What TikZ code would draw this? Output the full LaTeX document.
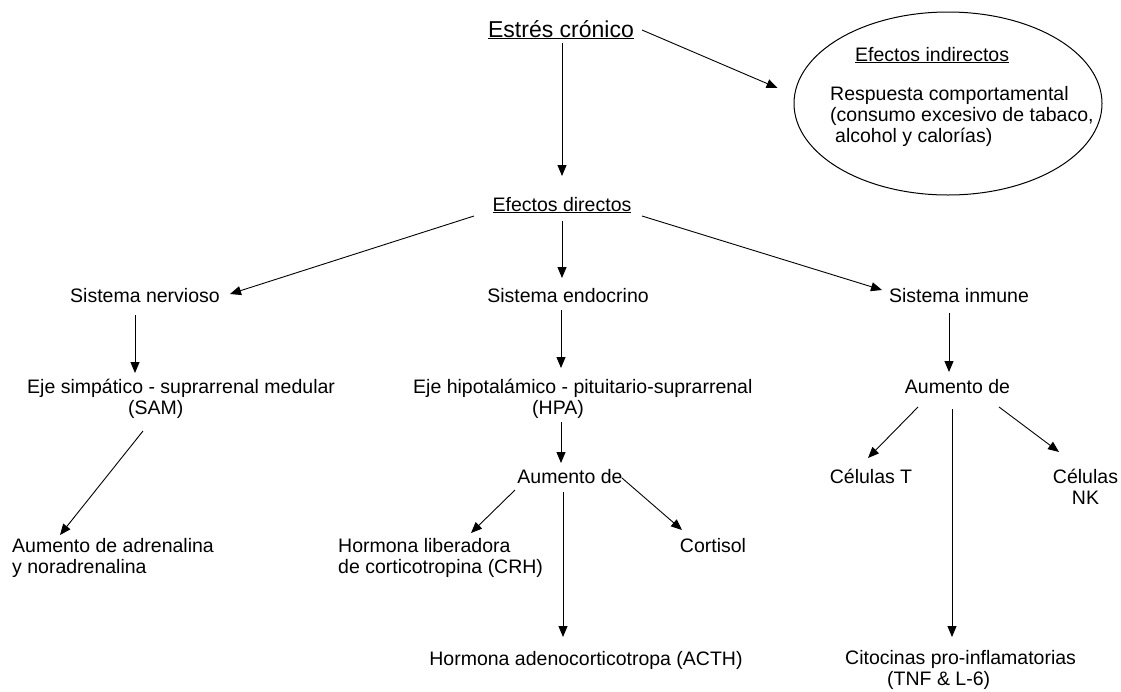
\documentclass[tikz,border=0pt]{standalone}
\usepackage{fontspec}
\setmainfont{Liberation Sans}
\usetikzlibrary{arrows.meta,shapes.geometric}
\begin{document}
\begin{tikzpicture}[x=1pt,y=-1pt,
  txt/.style={inner sep=0pt,font=\fontsize{19.5}{21}\selectfont},
  arr/.style={line width=0.9pt,-{Triangle[length=11pt,width=9pt]}}]
\useasboundingbox[fill=white] (0,0) rectangle (1121,691);

% nodes (multi-line nodes are anchored at the baseline of their last line)
\node[txt,anchor=base,font=\fontsize{23}{26}\selectfont] (title) at (561,37) {\underline{Estrés crónico}};
\node[draw,ellipse,line width=1pt,minimum width=308pt,minimum height=183pt,inner sep=0pt] (ell) at (948,103.5) {};
\node[txt,anchor=base west] (ind) at (855,61) {\underline{Efectos indirectos}};
\node[txt,anchor=base west,align=left] (resp) at (830,142) {Respuesta comportamental\\(consumo excesivo de tabaco,\\\hspace*{5pt}alcohol y calorías)};
\node[txt,anchor=base] (dir) at (562,211) {\underline{Efectos directos}};
\node[txt,anchor=base] (ner) at (145,302) {Sistema nervioso};
\node[txt,anchor=base] (endo) at (568,302) {Sistema endocrino};
\node[txt,anchor=base] (inm) at (959,302) {Sistema inmune};
\node[txt,anchor=base west,align=left] (sam) at (27,414) {Eje simpático - suprarrenal medular\\\hspace*{101pt}(SAM)};
\node[txt,anchor=base west,align=left] (hpa) at (413,414) {Eje hipotalámico - pituitario-suprarrenal\\\hspace*{119pt}(HPA)};
\node[txt,anchor=base] (aumb) at (570,483) {Aumento de};
\node[txt,anchor=base] (aumc) at (957.5,393) {Aumento de};
\node[txt,anchor=base west,align=left] (adr) at (12,573) {Aumento de adrenalina\\y noradrenalina};
\node[txt,anchor=base west,align=left] (crh) at (338,573) {Hormona liberadora\\de corticotropina (CRH)};
\node[txt,anchor=base] (cort) at (713,552) {Cortisol};
\node[txt,anchor=base] (acth) at (586,665) {Hormona adenocorticotropa (ACTH)};
\node[txt,anchor=base] (celt) at (871,483) {Células T};
\node[txt,anchor=base,align=center] (nk) at (1085.5,504) {Células\\NK};
\node[txt,anchor=base west,align=left] (cit) at (845,685) {Citocinas pro-inflamatorias\\\hspace*{42pt}(TNF \& L-6)};

% connectors
\draw[arr] ([xshift=1pt,yshift=-6pt]title.base) -- ([yshift=35pt]dir.base);
\draw[arr] ([xshift=81pt,yshift=7pt]title.base) -- ([xshift=-16pt,yshift=15.5pt]ell.west);
\draw[arr] ([xshift=-88pt,yshift=-5pt]dir.base) -- ([xshift=85pt,yshift=8pt]ner.base);
\draw[arr] ([yshift=-10pt]dir.base) -- ([xshift=-6pt,yshift=24pt]endo.base);
\draw[arr] ([xshift=80pt,yshift=-5pt]dir.base) -- ([xshift=-77pt,yshift=12pt]inm.base);
\draw[arr] ([xshift=-10pt,yshift=-13pt]ner.base) -- ([xshift=108pt,yshift=41pt]sam.base west);
\draw[arr] ([xshift=116pt,yshift=-17pt]sam.base west) -- ([xshift=48pt,yshift=38pt]adr.base west);
\draw[arr] ([xshift=-7pt,yshift=-8pt]endo.base) -- ([xshift=148pt,yshift=46pt]hpa.base west);
\draw[arr] ([xshift=148pt,yshift=-8pt]hpa.base west) -- ([xshift=-9pt,yshift=20pt]aumb.base);
\draw[arr] ([xshift=-55pt,yshift=-7pt]aumb.base) -- ([xshift=133pt,yshift=40pt]crh.base west);
\draw[arr] ([xshift=-7pt,yshift=-9pt]aumb.base) -- ([xshift=-23pt,yshift=28pt]acth.base);
\draw[arr] ([xshift=52pt,yshift=5pt]aumb.base) -- ([xshift=-31pt,yshift=22pt]cort.base);
\draw[arr] ([xshift=-10pt,yshift=-11pt]inm.base) -- ([xshift=-8.5pt,yshift=21pt]aumc.base);
\draw[arr] ([xshift=-39.5pt,yshift=-14pt]aumc.base) -- ([xshift=-3pt,yshift=25pt]celt.base);
\draw[arr] ([xshift=41.5pt,yshift=-14pt]aumc.base) -- ([xshift=-26.5pt,yshift=52pt]nk.base);
\draw[arr] ([xshift=-5.5pt,yshift=-16pt]aumc.base) -- ([xshift=107pt,yshift=48pt]cit.base west);
\end{tikzpicture}
\end{document}
